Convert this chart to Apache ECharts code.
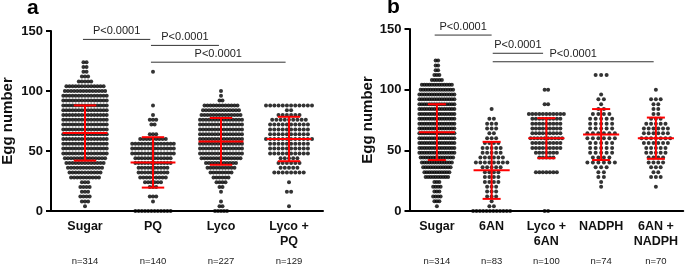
<!DOCTYPE html>
<html>
<head>
<meta charset="utf-8">
<script src="https://cdn.jsdelivr.net/npm/echarts@6.0.0/dist/echarts.min.js"></script>
<style>
  html, body { margin: 0; padding: 0; background: #fff; }
  #chart { width: 685px; height: 271px; }
</style>
</head>
<body>
<div id="chart"></div>
<script>
// egg-number rows (value of each row of dots)
const levels = [0, 4, 8, 12, 16, 20, 24, 28, 32, 36, 40, 44, 48, 52, 56, 60,
  64, 68, 72, 76, 80, 84, 88, 92, 96, 100, 104, 108, 112, 116, 120, 124];

// panel a
const catsA = ['Sugar', 'PQ', 'Lyco', 'Lyco +\nPQ'];
const nLabelsA = ['n=314', 'n=140', 'n=227', 'n=129'];
const countsSugar = [0, 1, 3, 4, 3, 4, 3, 10, 11, 12, 13, 14, 15, 15, 15, 15,
  15, 15, 15, 15, 15, 15, 15, 15, 15, 14, 13, 5, 3, 2, 2, 2];
const countsPQ = [12, 0, 1, 3, 0, 3, 6, 9, 10, 10, 12, 12, 14, 14, 14, 9,
  3, 0, 2, 3, 1, 0, 1, 0, 0, 0, 0, 0, 0, 1, 0, 0];
const countsLyco = [5, 2, 1, 0, 1, 2, 4, 6, 8, 10, 11, 14, 15, 15, 15, 15,
  15, 15, 15, 15, 14, 13, 12, 2, 1, 1, 0, 0, 0, 0, 0, 0];
const countsLycoPQ = [0, 1, 0, 0, 2, 0, 1, 0, 8, 5, 6, 5, 10, 10, 10, 12,
  10, 10, 10, 9, 6, 2, 12, 0, 0, 0, 0, 0, 0, 0, 0, 0];
const meansA = [65, 40.5, 58, 60];
const sdA = [23, 21, 19.5, 18.5];
const bracketsA = [[-0.03, 0.96, 143], [0.97, 1.97, 138], [0.97, 2.95, 124]];

// panel b
const catsB = ['Sugar', '6AN', 'Lyco +\n6AN', 'NADPH', '6AN +\nNADPH'];
const nLabelsB = ['n=314', 'n=83', 'n=100', 'n=74', 'n=70'];
const counts6AN = [12, 2, 1, 3, 3, 3, 4, 4, 4, 5, 8, 6, 5, 5, 4, 3,
  2, 3, 3, 2, 0, 1, 0, 0, 0, 0, 0, 0, 0, 0, 0, 0];
const countsLyco6AN = [2, 0, 0, 0, 0, 0, 0, 0, 7, 0, 0, 5, 7, 9, 9, 10,
  9, 9, 9, 9, 11, 0, 2, 0, 0, 2, 0, 0, 0, 0, 0, 0];
const countsNADPH = [0, 0, 0, 0, 0, 1, 1, 2, 2, 3, 6, 4, 5, 5, 5, 6,
  6, 5, 5, 5, 4, 2, 1, 2, 1, 0, 0, 0, 3, 0, 0, 0];
const counts6ANNADPH = [0, 0, 0, 0, 0, 1, 0, 3, 2, 3, 4, 4, 5, 5, 6, 7,
  6, 6, 5, 3, 2, 2, 2, 3, 0, 1, 0, 0, 0, 0, 0, 0];
const meansB = [65, 33.5, 60, 63, 60];
const sdB = [23, 23.5, 16.5, 21, 17];
const bracketsB = [[-0.04, 1.0, 145], [1.02, 1.94, 130], [1.02, 3.96, 123]];

const pText = 'P<0.0001';
const FONT = '"Liberation Sans", Arial, sans-serif';

const gridA = { left: 51, top: 31, width: 272, height: 180, containLabel: false, outerBoundsMode: 'none' };
const gridB = { left: 409.5, top: 29, width: 273.75, height: 182, containLabel: false, outerBoundsMode: 'none' };

// lay the dots of each row side by side (px spacing -> axis units)
function swarm(groups, spacing, catW, maxW) {
  const pts = [];
  groups.forEach(function (counts, g) {
    counts.forEach(function (c, k) {
      if (!c) return;
      let sp = spacing[g];
      if (c > 1) sp = Math.min(sp, maxW / (c - 1));
      for (let j = 0; j < c; j++) {
        pts.push([g + (j - (c - 1) / 2) * sp / catW, levels[k]]);
      }
    });
  });
  return pts;
}

function errorBar(params, api) {
  const x = api.value(0), m = api.value(1), s = api.value(2);
  const style = { stroke: '#ff0000', lineWidth: 2 };
  const line = function (a, b) {
    const p1 = api.coord(a), p2 = api.coord(b);
    return { type: 'line', shape: { x1: p1[0], y1: p1[1], x2: p2[0], y2: p2[1] }, style: style };
  };
  return {
    type: 'group',
    children: [
      line([x - 0.33, m], [x + 0.33, m]),
      line([x, m - s], [x, m + s]),
      line([x - 0.165, m + s], [x + 0.165, m + s]),
      line([x - 0.165, m - s], [x + 0.165, m - s])
    ]
  };
}

function bracket(params, api) {
  const a = api.coord([api.value(0), api.value(2)]);
  const b = api.coord([api.value(1), api.value(2)]);
  return {
    type: 'group',
    children: [
      { type: 'line', shape: { x1: a[0], y1: a[1], x2: b[0], y2: b[1] },
        style: { stroke: '#333', lineWidth: 1 } },
      { type: 'text', x: (a[0] + b[0]) / 2, y: a[1] - 8,
        style: { text: pText, fill: '#222', fontSize: 11, fontFamily: FONT,
          align: 'center', verticalAlign: 'middle' } }
    ]
  };
}

function catAxis(gridIndex, data) {
  return {
    type: 'category', gridIndex: gridIndex, data: data, position: 'bottom',
    axisLine: { onZero: false, lineStyle: { color: '#000', width: 2 } },
    axisTick: { alignWithLabel: true, length: 4, lineStyle: { color: '#000', width: 1.5 } },
    axisLabel: { interval: 0, margin: 8, color: '#111', fontSize: 12.5, fontWeight: 'bold',
      fontFamily: FONT, lineHeight: 15 },
    splitLine: { show: false }
  };
}

function nAxis(gridIndex, data) {
  return {
    type: 'category', gridIndex: gridIndex, data: data, position: 'bottom', offset: 37,
    axisLine: { show: false, onZero: false }, axisTick: { show: false },
    axisLabel: { interval: 0, margin: 8, color: '#222', fontSize: 9.5, fontFamily: FONT }
  };
}

function valAxis(gridIndex, n) {
  return { type: 'value', gridIndex: gridIndex, show: false, min: -0.5, max: n - 0.5,
    axisLine: { onZero: false } };
}

function yAxis(gridIndex, gap) {
  return {
    type: 'value', gridIndex: gridIndex, min: 0, max: 150, interval: 50, position: 'left',
    name: 'Egg number', nameLocation: 'middle', nameGap: gap, nameMoveOverlap: false,
    nameTextStyle: { fontSize: 15, fontWeight: 'bold', color: '#111', fontFamily: FONT },
    axisLine: { show: true, onZero: false, lineStyle: { color: '#000', width: 2 } },
    axisTick: { show: true, length: 5, lineStyle: { color: '#000', width: 2 } },
    axisLabel: { margin: 8, fontSize: 13, fontWeight: 'bold', color: '#111', fontFamily: FONT },
    splitLine: { show: false }
  };
}

const dotsA = swarm([countsSugar, countsPQ, countsLyco, countsLycoPQ],
  [3.1, 3.2, 3.0, 4.2], gridA.width / 4, 46);
const dotsB = swarm([countsSugar, counts6AN, countsLyco6AN, countsNADPH, counts6ANNADPH],
  [2.5, 4.5, 3.5, 5.5, 4.8], gridB.width / 5, 37);

const chart = echarts.init(document.getElementById('chart'));
chart.setOption({
  animation: false,
  title: [
    { text: 'a', left: 27, top: -2, padding: 0,
      textStyle: { fontSize: 21, fontWeight: 'bold', color: '#000', fontFamily: FONT } },
    { text: 'b', left: 387, top: -3, padding: 0,
      textStyle: { fontSize: 21, fontWeight: 'bold', color: '#000', fontFamily: FONT } }
  ],
  grid: [gridA, gridB],
  xAxis: [catAxis(0, catsA), nAxis(0, nLabelsA), valAxis(0, 4),
    catAxis(1, catsB), nAxis(1, nLabelsB), valAxis(1, 5)],
  yAxis: [yAxis(0, 36), yAxis(1, 34)],
  series: [
    { type: 'scatter', xAxisIndex: 2, yAxisIndex: 0, data: dotsA, symbolSize: 4,
      clip: false, itemStyle: { color: '#000' } },
    { type: 'custom', xAxisIndex: 2, yAxisIndex: 0, renderItem: errorBar, z: 5,
      data: meansA.map(function (m, i) { return [i, m, sdA[i]]; }) },
    { type: 'custom', xAxisIndex: 2, yAxisIndex: 0, renderItem: bracket,
      data: bracketsA },
    { type: 'scatter', xAxisIndex: 5, yAxisIndex: 1, data: dotsB, symbolSize: 4,
      clip: false, itemStyle: { color: '#000' } },
    { type: 'custom', xAxisIndex: 5, yAxisIndex: 1, renderItem: errorBar, z: 5,
      data: meansB.map(function (m, i) { return [i, m, sdB[i]]; }) },
    { type: 'custom', xAxisIndex: 5, yAxisIndex: 1, renderItem: bracket,
      data: bracketsB }
  ]
});
</script>
</body>
</html>
